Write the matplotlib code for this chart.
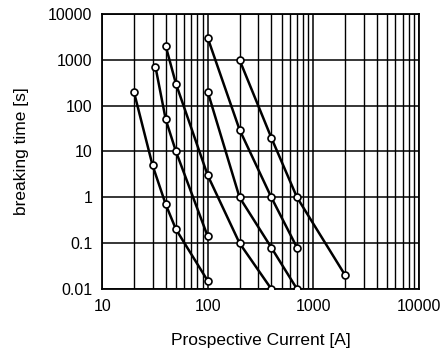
import numpy as np
import matplotlib.pyplot as plt
from matplotlib.ticker import LogLocator, NullFormatter, FixedLocator

plt.rcParams['font.family'] = ['Liberation Sans', 'DejaVu Sans']

# prospective current [A] and breaking time [s] for each curve
i1 = [20, 30, 40, 50, 100]
t1 = [200, 5, 0.7, 0.2, 0.015]
i2 = [32, 40, 50, 100]
t2 = [700, 50, 10, 0.14]
i3 = [40, 50, 100, 200, 400]
t3 = [2000, 300, 3, 0.1, 0.01]
i4 = [100, 200, 400, 700]
t4 = [200, 1, 0.08, 0.01]
i5 = [100, 200, 400, 700]
t5 = [3000, 30, 1, 0.08]
i6 = [200, 400, 700, 2000]
t6 = [1000, 20, 1, 0.02]

x_ticks = [10, 100, 1000, 10000]
x_labels = ['10', '100', '1000', '10000']
y_ticks = [0.01, 0.1, 1, 10, 100, 1000, 10000]
y_labels = ['0.01', '0.1', '1', '10', '100', '1000', '10000']

fig = plt.figure(figsize=(4.48, 3.58), dpi=100)
ax = fig.add_axes([0.228, 0.193, 0.707, 0.768])

ax.set_xscale('log')
ax.set_yscale('log')
ax.set_xlim(10, 10000)
ax.set_ylim(0.01, 10000)

# grid: vertical lines at every minor tick, horizontal only at decades
ax.xaxis.set_minor_locator(LogLocator(base=10, subs=np.arange(2, 10)))
ax.xaxis.set_minor_formatter(NullFormatter())
ax.yaxis.set_minor_locator(FixedLocator([]))
ax.grid(which='major', axis='both', color='black', linewidth=1.1)
ax.grid(which='minor', axis='x', color='black', linewidth=1.0)

for xs, ts in [(i1, t1), (i2, t2), (i3, t3), (i4, t4), (i5, t5), (i6, t6)]:
    ax.plot(xs, ts, color='black', linewidth=1.8, marker='o', markersize=5,
            markerfacecolor='white', markeredgecolor='black', markeredgewidth=1.2,
            zorder=3)

ax.set_xticks(x_ticks)
ax.set_xticklabels(x_labels)
ax.set_yticks(y_ticks)
ax.set_yticklabels(y_labels)
ax.tick_params(axis='both', which='both', length=0, labelsize=11.5, pad=7)

for s in ax.spines.values():
    s.set_linewidth(1.3)

ax.set_xlabel('Prospective Current [A]', fontsize=12.5, labelpad=14)
ax.set_ylabel('breaking time [s]', fontsize=12.5, labelpad=14)

fig.savefig('out.png', dpi=100)
